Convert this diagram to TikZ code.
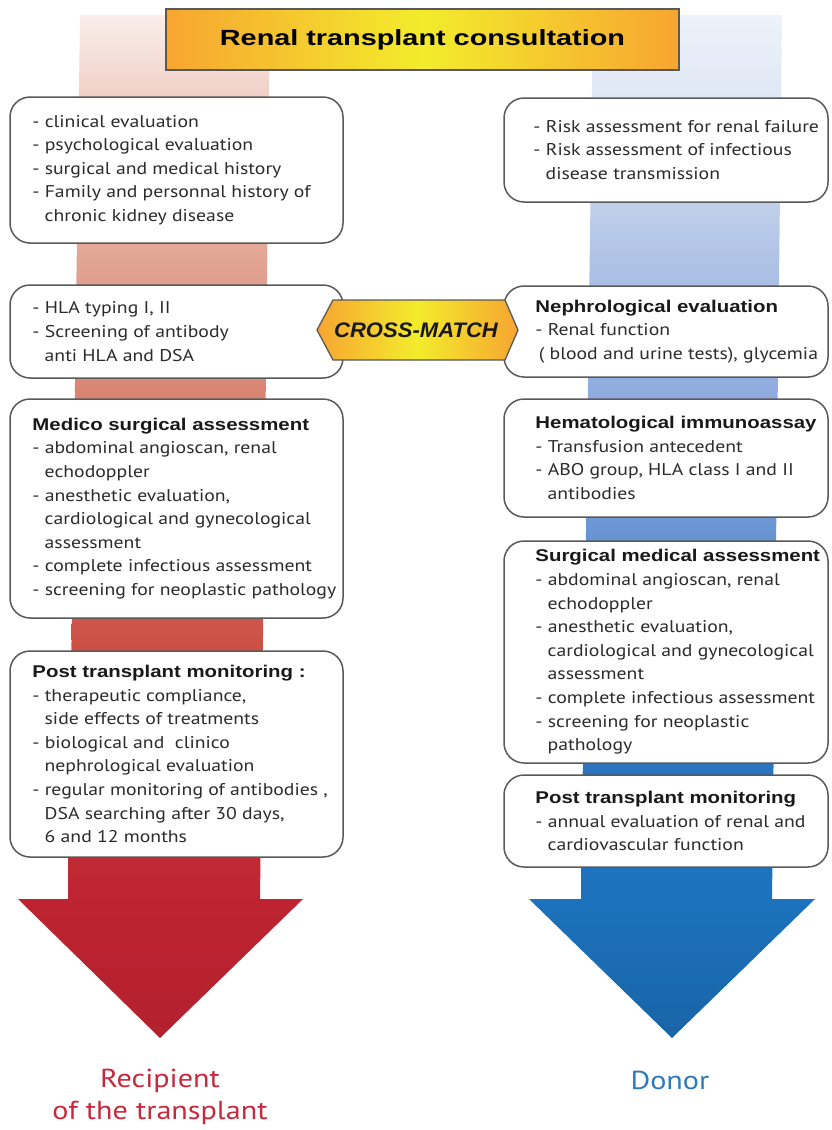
\documentclass[tikz,border=0pt]{standalone}
\usepackage{fontspec}
\usepackage{graphicx}
\setmainfont{PT Sans}[FakeStretch=1.16]
\newfontfamily\arialf{Liberation Sans}
\usetikzlibrary{calc}
\definecolor{lc0}{HTML}{FAEEEA}
\definecolor{lc1}{HTML}{F0CFC5}
\definecolor{lc2}{HTML}{E3A796}
\definecolor{lc3}{HTML}{D98372}
\definecolor{lc4}{HTML}{CD5147}
\definecolor{lc5}{HTML}{BE2331}
\definecolor{rc0}{HTML}{EEF2F9}
\definecolor{rc1}{HTML}{DFE7F5}
\definecolor{rc2}{HTML}{B2C5E7}
\definecolor{rc3}{HTML}{8EABDF}
\definecolor{rc4}{HTML}{6A95D4}
\definecolor{rc5}{HTML}{2C74C0}
\definecolor{rc6}{HTML}{1C72BD}
\definecolor{orng}{HTML}{F7A531}
\definecolor{yell}{HTML}{F3EC2C}
\definecolor{redlab}{HTML}{C8283C}
\definecolor{bluelab}{HTML}{2A7ABF}
\definecolor{bodytxt}{HTML}{2B2B2B}
\newcommand\ind{\hspace*{0.72em}}
\newcommand\hd[1]{\scalebox{1.2}[1]{{\arialf\bfseries\color{black!90}#1}}}
\begin{document}
\begin{tikzpicture}[x=1pt,y=-1pt,
  box/.style={draw=black!65, line width=1.5pt, rounded corners=20pt, fill=white, inner sep=0pt},
  txt/.style={align=left, inner sep=0pt, font=\fontsize{17}{23.6}\selectfont, text=bodytxt, anchor=west},
  lab/.style={font=\fontsize{26}{32}\selectfont, inner sep=0pt}]
\useasboundingbox (0,0) rectangle (831,1130);
% left column (tapered, shaded in segments)
\foreach \ya/\yb/\ca/\cb in {15/100/lc0/lc1,100/250/lc1/lc2,250/400/lc2/lc3,400/640/lc3/lc4,640/900/lc4/lc5}{
  \shade[top color=\ca, bottom color=\cb]
    ({80-12*(\ya-15)/885},\ya) -- ({270-10*(\ya-15)/885},\ya) -- ({270-10*(\yb-15)/885},\yb) -- ({80-12*(\yb-15)/885},\yb) -- cycle;
}
\foreach \ya/\yb/\ca/\cb in {15/100/rc0/rc1,100/250/rc1/rc2,250/400/rc2/rc3,400/530/rc3/rc4,530/770/rc4/rc5,770/900/rc5/rc6}{
  \shade[top color=\ca, bottom color=\cb]
    ({593-12*(\ya-15)/885},\ya) -- ({782-10*(\ya-15)/885},\ya) -- ({782-10*(\yb-15)/885},\yb) -- ({593-12*(\yb-15)/885},\yb) -- cycle;
}
% arrow heads
\shade[top color=lc5, bottom color=lc5!94!black] (18,899) -- (303,899) -- (160,1038) -- cycle;
\shade[top color=rc6, bottom color=rc6!88!black] (529,899) -- (815,899) -- (672,1038) -- cycle;
% title
\node[draw=black!65, line width=1.5pt, left color=orng, right color=orng, middle color=yell,
  minimum width=513pt, minimum height=61pt, inner sep=0pt] (title) at (422.5,39.5)
  {\scalebox{1.31}[1]{\arialf\bfseries\fontsize{22}{26}\selectfont Renal transplant consultation}};
% recipient boxes
\node[box, minimum width=333pt, minimum height=146pt] (r1) at (176.5,170) {};
\node[box, minimum width=333pt, minimum height=93pt] (r2) at (176.5,331.5) {};
\node[box, minimum width=333pt, minimum height=219pt] (r3) at (176.5,508.5) {};
\node[box, minimum width=333pt, minimum height=206pt] (r4) at (176.5,754) {};
% donor boxes
\node[box, minimum width=324pt, minimum height=104pt] (d1) at (666,150) {};
\node[box, minimum width=324pt, minimum height=91pt] (d2) at (666,331.5) {};
\node[box, minimum width=324pt, minimum height=118pt] (d3) at (666,458) {};
\node[box, minimum width=324pt, minimum height=222pt] (d4) at (666,652) {};
\node[box, minimum width=324pt, minimum height=92pt] (d5) at (666,821) {};
% cross-match
\shade[draw=black!65, line width=1.3pt, left color=orng, right color=orng, middle color=yell]
  (317,330) -- (333,300) -- (505,300) -- (518,330) -- (505,360) -- (333,360) -- cycle;
\node[inner sep=0pt, text=black!90] (cm) at (416,330) {\scalebox{1.05}[1]{\arialf\bfseries\itshape\fontsize{21}{24}\selectfont CROSS-MATCH}};
% texts
\node[txt] (r1t) at ([xshift=23pt]r1.west) {- clinical evaluation\\- psychological evaluation\\- surgical and medical history\\- Family and personnal history of\\\ind chronic kidney disease};
\node[txt] (r2t) at ([xshift=23pt]r2.west) {- HLA typing I, II\\- Screening of antibody\\\ind anti HLA and DSA};
\node[txt] (r3t) at ([xshift=23pt]r3.west) {\hd{Medico surgical assessment}\\- abdominal angioscan, renal\\\ind echodoppler\\- anesthetic evaluation,\\\ind cardiological and gynecological\\\ind assessment\\- complete infectious assessment\\- screening for neoplastic pathology};
\node[txt] (r4t) at ([xshift=23pt]r4.west) {\hd{Post transplant monitoring :}\\- therapeutic compliance,\\\ind side effects of treatments\\- biological and \ clinico\\\ind nephrological evaluation\\- regular monitoring of antibodies ,\\\ind DSA searching after 30 days,\\\ind 6 and 12 months};
\node[txt] (d1t) at ([xshift=30pt]d1.west) {- Risk assessment for renal failure\\- Risk assessment of infectious\\\ind disease transmission};
\node[txt] (d2t) at ([xshift=32pt]d2.west) {\hd{Nephrological evaluation}\\- Renal function\\\hspace*{0.2em}( blood and urine tests), glycemia};
\node[txt] (d3t) at ([xshift=32pt]d3.west) {\hd{Hematological immunoassay}\\- Transfusion antecedent\\- ABO group, HLA class I and II\\\ind antibodies};
\node[txt] (d4t) at ([xshift=32pt]d4.west) {\hd{Surgical medical assessment}\\- abdominal angioscan, renal\\\ind echodoppler\\- anesthetic evaluation,\\\ind cardiological and gynecological\\\ind assessment\\- complete infectious assessment\\- screening for neoplastic\\\ind pathology};
\node[txt] (d5t) at ([xshift=32pt]d5.west) {\hd{Post transplant monitoring}\\- annual evaluation of renal and\\\ind cardiovascular function};
% bottom labels
\node[lab, text=redlab, align=center] (rec) at (160,1097) {Recipient\\of the transplant};
\node[lab, text=bluelab] (don) at (670,1080) {Donor};
\end{tikzpicture}
\end{document}
